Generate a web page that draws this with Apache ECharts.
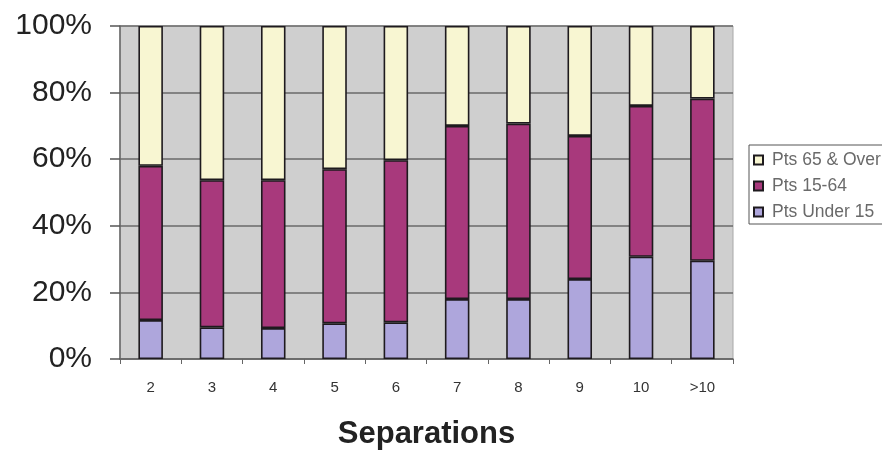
<!DOCTYPE html>
<html>
<head>
<meta charset="utf-8">
<script src="https://cdn.jsdelivr.net/npm/echarts@6/dist/echarts.min.js"></script>
<style>
  html, body { margin: 0; padding: 0; background: #ffffff; }
  #chart { width: 882px; height: 455px; }
</style>
</head>
<body>
<div id="chart"></div>
<script>
// Share of patients by age group, per number of separations
const categories = ['2', '3', '4', '5', '6', '7', '8', '9', '10', '>10'];
const under15 = [11.7, 9.5, 9.3, 10.7, 11.0, 18.0, 18.0, 24.0, 30.7, 29.5];
const age15to64 = [46.3, 44.2, 44.4, 46.3, 48.7, 52.0, 52.7, 43.0, 45.3, 48.7];
const over65 = [42.0, 46.3, 46.3, 43.0, 40.3, 30.0, 29.3, 33.0, 24.0, 21.8];
const yTicks = [0, 20, 40, 60, 80, 100];

const font = '"Liberation Sans", Arial, sans-serif';
const chart = echarts.init(document.getElementById('chart'));

function barSeries(name, data, color) {
  return {
    name: name,
    type: 'bar',
    stack: 'total',
    data: data,
    barWidth: '40%',
    itemStyle: { color: color, borderColor: '#1e1a1e', borderWidth: 1.6 },
    emphasis: { disabled: true }
  };
}

chart.setOption({
  animation: false,
  backgroundColor: '#ffffff',
  grid: {
    left: 120, right: 149, top: 26, bottom: 94,
    show: true, backgroundColor: '#cfcfcf', borderColor: '#a8a8a8', borderWidth: 1
  },
  legend: {
    orient: 'vertical',
    left: 749, top: 145,
    padding: [6, 40, 3, 4],
    itemGap: 8,
    itemWidth: 9, itemHeight: 9,
    icon: 'rect',
    borderColor: '#555', borderWidth: 1,
    backgroundColor: '#ffffff',
    textStyle: { fontFamily: font, fontSize: 17.5, color: '#6a6a6a', padding: [0, 0, 0, 4] },
    data: ['Pts 65 & Over', 'Pts 15-64', 'Pts Under 15']
  },
  xAxis: {
    type: 'category',
    data: categories,
    name: 'Separations',
    nameLocation: 'middle',
    nameGap: 60,
    nameTextStyle: { fontFamily: font, fontSize: 31, fontWeight: 'bold', color: '#222' },
    axisLine: { lineStyle: { color: '#666', width: 1.5 } },
    axisTick: { show: true, length: 5, lineStyle: { color: '#666' } },
    axisLabel: { fontFamily: font, fontSize: 15, color: '#333', margin: 21 }
  },
  yAxis: {
    type: 'value',
    min: yTicks[0], max: yTicks[yTicks.length - 1], interval: 20,
    axisLine: { show: true, lineStyle: { color: '#666', width: 1.5 } },
    axisTick: { show: true, inside: false, length: 10, lineStyle: { color: '#555', width: 1.5 } },
    splitLine: { lineStyle: { color: '#6a6a6a', width: 1.5 } },
    axisLabel: {
      fontFamily: font, fontSize: 30, color: '#222', margin: 28,
      formatter: function (v) { return v + '%'; }
    }
  },
  series: [
    barSeries('Pts Under 15', under15, '#aea6dc'),
    barSeries('Pts 15-64', age15to64, '#a8397c'),
    barSeries('Pts 65 & Over', over65, '#f8f6d2')
  ]
});
</script>
</body>
</html>
